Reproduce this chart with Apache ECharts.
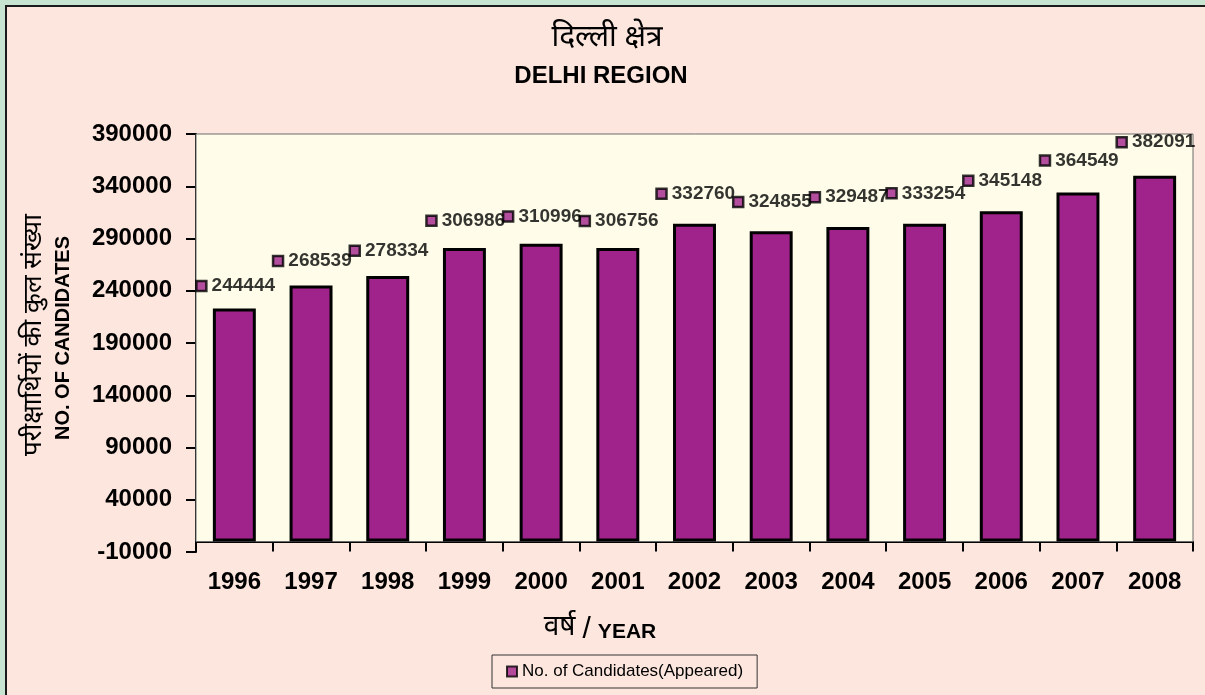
<!DOCTYPE html>
<html><head><meta charset="utf-8">
<script src="https://cdn.jsdelivr.net/npm/echarts@6/dist/echarts.min.js"></script>
<style>html,body{margin:0;padding:0;background:#c6e4cf;}#c{width:1205px;height:695px;}</style>
</head><body><div id="c"></div>
<script>
const years = ['1996','1997','1998','1999','2000','2001','2002','2003','2004','2005','2006','2007','2008'];
const barValues = [223000,245000,254000,281000,285000,281000,304000,297000,301000,304000,316000,334000,350000];
const appeared = [244444,268539,278334,306986,310996,306756,332760,324855,329487,333254,345148,364549,382091];
const yTicks = [-10000,40000,90000,140000,190000,240000,290000,340000,390000];
const seriesName = 'No. of Candidates(Appeared)';

const DEV = '"Noto Sans Devanagari","Noto Serif Devanagari","Lohit Devanagari","Mangal","FreeSans",sans-serif';
const AR = '"Liberation Sans",Arial,sans-serif';
const chart = echarts.init(document.getElementById('c'));
const markerOffset = 0.07;
chart.setOption({
  animation:false,
  backgroundColor:'transparent',
  graphic:[
    {type:'rect',z:-10,shape:{x:6,y:6,width:1205,height:695},style:{fill:'#fde6dd',stroke:'#1a1a1a',lineWidth:2}},
    {type:'text',z:10,x:607,y:40,style:{text:'दिल्ली क्षेत्र',font:'30px '+DEV,fill:'#000',align:'center',verticalAlign:'middle'}},
    {type:'text',z:10,x:601,y:76,style:{text:'DELHI REGION',font:'bold 24px '+AR,fill:'#000',align:'center',verticalAlign:'middle'}},
    {type:'text',z:10,x:36,y:335,rotation:Math.PI/2,style:{text:'परीक्षार्थियों की कुल संख्या',font:'26px '+DEV,fill:'#000',align:'center',verticalAlign:'middle'}},
    {type:'text',z:10,x:63,y:338,rotation:Math.PI/2,style:{text:'NO. OF CANDIDATES',font:'bold 20px '+AR,fill:'#000',align:'center',verticalAlign:'middle'}},
    {type:'text',z:10,x:600,y:630,style:{text:'{h|वर्ष}{s|/}{e|YEAR}',align:'center',verticalAlign:'middle',
      rich:{h:{font:'28px '+DEV,fill:'#000'},s:{font:'30px '+AR,fill:'#000',padding:[0,7,0,7]},e:{font:'bold 21px '+AR,fill:'#000',padding:[4,0,0,0]}}}}
  ],
  legend:{
    data:[seriesName],left:492,top:655,
    backgroundColor:'#fde6dd',borderColor:'#333',borderWidth:1,padding:[8,14,8,14],
    itemWidth:10,itemHeight:10,itemGap:6,icon:'rect',
    textStyle:{fontFamily:AR,fontSize:17,color:'#000'}
  },
  grid:{left:196,right:12,top:134,bottom:143,containLabel:false},
  xAxis:[
    {type:'category',data:years,
     axisLine:{onZero:true,lineStyle:{color:'#000',width:2}},
     axisTick:{show:true,length:10,lineStyle:{color:'#000',width:2}},
     axisLabel:{fontFamily:AR,fontWeight:'bold',fontSize:24,color:'#000',margin:18},
     splitLine:{show:false}},
    {type:'value',min:0,max:years.length,show:false,splitLine:{show:false}}
  ],
  yAxis:{type:'value',min:yTicks[0],max:yTicks[yTicks.length-1],interval:yTicks[1]-yTicks[0],
    axisLine:{show:true,lineStyle:{color:'#000',width:2}},
    axisTick:{show:true,length:10,lineStyle:{color:'#000',width:2}},
    axisLabel:{fontFamily:AR,fontWeight:'bold',fontSize:24,color:'#000',margin:24,formatter:v=>String(v)},
    splitLine:{show:false}},
  series:[
    {type:'bar',name:'bars',data:barValues,xAxisIndex:0,barWidth:'56%',z:2,
     itemStyle:{color:'#a0228b',borderColor:'#000',borderWidth:3},
     markArea:{silent:true,z:1,itemStyle:{color:'#fffde9',borderColor:'#6a6a6a',borderWidth:1},
       data:[[{yAxis:0},{yAxis:yTicks[yTicks.length-1]}]]}},
    {type:'scatter',name:seriesName,xAxisIndex:1,z:5,
     data:appeared.map((v,i)=>[i+markerOffset,v]),
     symbol:'rect',symbolSize:10,
     itemStyle:{color:'#a0228b',borderColor:'#000',borderWidth:2.5},
     label:{show:true,position:'right',distance:4,fontFamily:AR,fontWeight:'bold',fontSize:19,color:'#000',
       formatter:p=>String(p.value[1])}}
  ]
});
</script></body></html>
